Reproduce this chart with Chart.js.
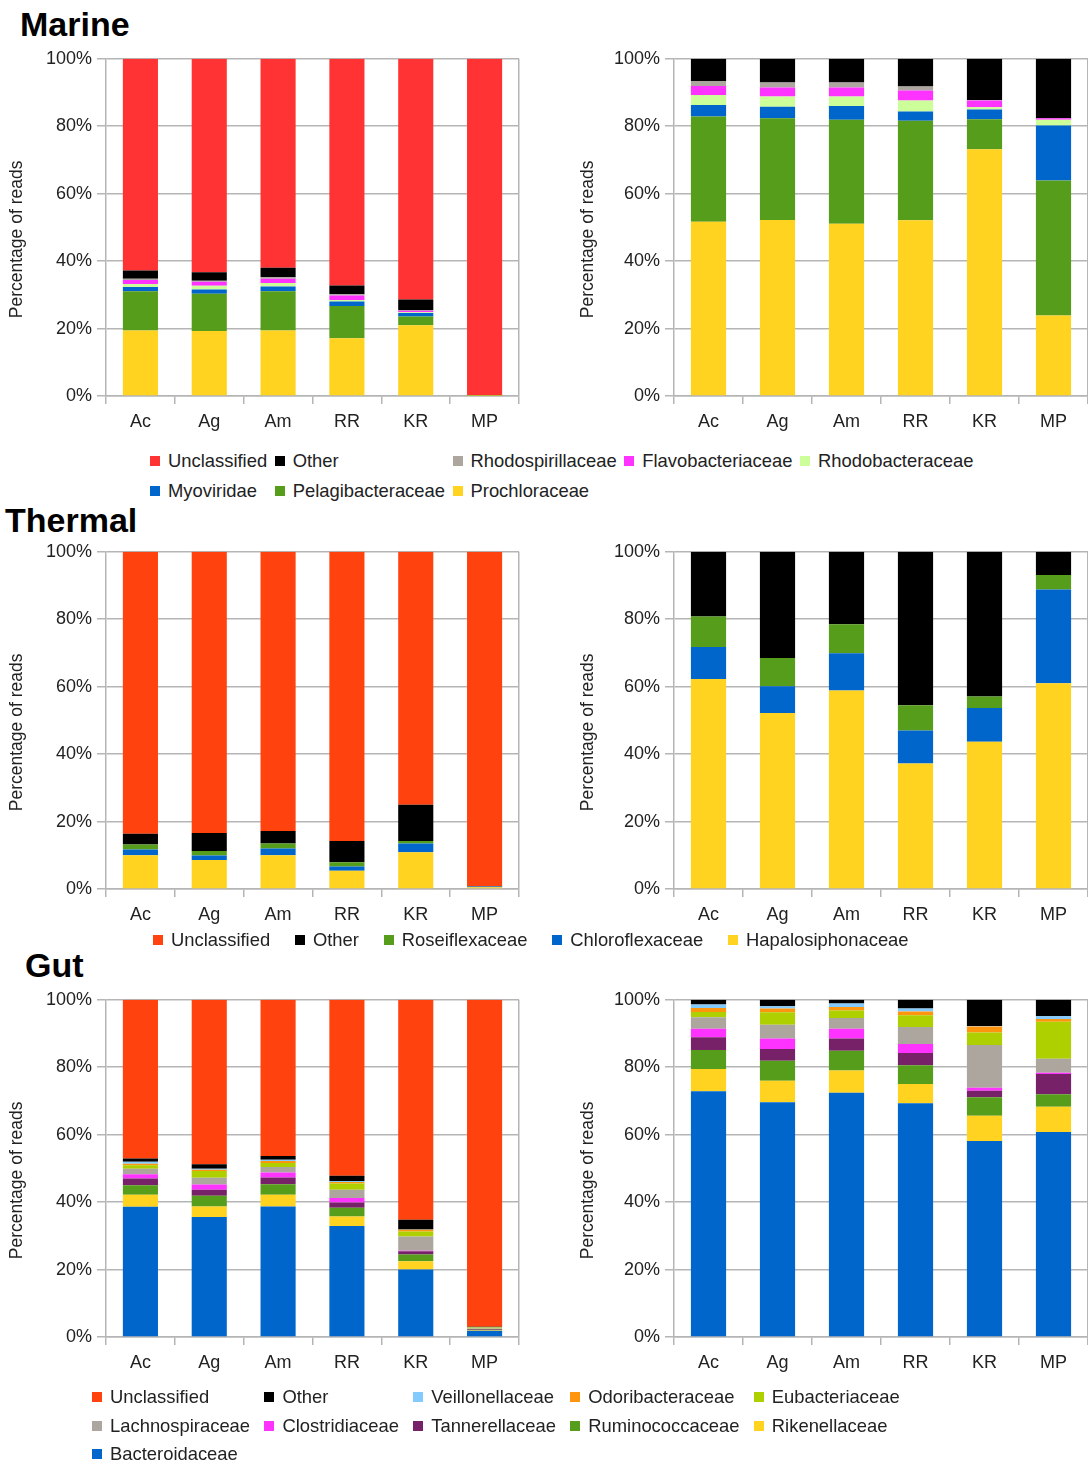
<!DOCTYPE html>
<html>
<head>
<meta charset="utf-8">
<script src="https://cdn.jsdelivr.net/npm/chart.js@4.4.1/dist/chart.umd.min.js"></script>
<style>
  html, body { margin: 0; padding: 0; background: #fff; }
  body { width: 1088px; height: 1465px; position: relative; overflow: hidden;
         font-family: 'Liberation Sans', Arial, sans-serif; color: #222; }
  .title { position: absolute; font-weight: bold; font-size: 34px; line-height: 1; color: #000; }
  .panel { position: absolute; }
  .legend { position: absolute; font-size: 18.4px; }
  .legend.grid { display: grid; grid-template-columns: repeat(5, max-content); }
  .legend.row { display: flex; align-items: center; }
  .item { display: flex; align-items: center; white-space: nowrap; }
  .sw { width: 10px; height: 10px; margin-right: 8px; flex: none; }
</style>
</head>
<body>
<div class="title" style="left:20px; top:7px;">Marine</div>
<div class="title" style="left:5px; top:503px;">Thermal</div>
<div class="title" style="left:25px; top:948px;">Gut</div>

<div class="panel" style="left:0; top:43px; width:530px; height:402px;"><canvas id="marineAll"></canvas></div>
<div class="panel" style="left:568px; top:43px; width:520px; height:402px;"><canvas id="marineCls"></canvas></div>
<div class="panel" style="left:0; top:536px; width:530px; height:402px;"><canvas id="thermalAll"></canvas></div>
<div class="panel" style="left:568px; top:536px; width:520px; height:402px;"><canvas id="thermalCls"></canvas></div>
<div class="panel" style="left:0; top:984px; width:530px; height:402px;"><canvas id="gutAll"></canvas></div>
<div class="panel" style="left:568px; top:984px; width:520px; height:402px;"><canvas id="gutCls"></canvas></div>

<div id="marineLegend" class="legend grid" style="left:150px; top:446px; column-gap:7.5px; grid-auto-rows:30px;"></div>
<div id="thermalLegend" class="legend row" style="left:153px; top:925px; column-gap:24.8px; height:30px;"></div>
<div id="gutLegend" class="legend grid" style="left:92px; top:1383px; column-gap:14.3px; grid-auto-rows:28.5px;"></div>

<script>
// Sample sites
const categories = ['Ac', 'Ag', 'Am', 'RR', 'KR', 'MP'];

// ---- Marine: share of all reads (%) ----
const marineProchloraceae     = [19.4, 19.3, 19.4, 17.1, 21.0, 0.07];
const marinePelagibacteraceae = [11.7, 11.0, 11.7,  9.6,  2.6, 0.12];
const marineMyoviridae        = [ 1.2,  1.3,  1.4,  1.3,  1.0, 0.05];
const marineRhodobacteraceae  = [ 0.9,  1.1,  1.0,  0.5,  0.2, 0.01];
const marineFlavobacteriaceae = [ 1.2,  1.2,  1.3,  1.3,  0.5, 0.0];
const marineRhodospirillaceae = [ 0.4,  0.3,  0.4,  0.4,  0.1, 0.0];
const marineOther             = [ 2.4,  2.5,  2.8,  2.6,  3.2, 0.05];
const marineUnclassified      = [62.8, 63.3, 62.0, 67.2, 71.4, 99.7];

// ---- Marine: share of classified reads (%) ----
const marineClsProchloraceae     = [51.7, 52.2, 51.1, 52.1, 73.2, 23.9];
const marineClsPelagibacteraceae = [31.2, 30.2, 30.8, 29.5,  8.9, 40.0];
const marineClsMyoviridae        = [ 3.4,  3.4,  4.1,  2.8,  2.9, 16.3];
const marineClsRhodobacteraceae  = [ 3.0,  3.0,  2.8,  3.2,  0.6,  1.7];
const marineClsFlavobacteriaceae = [ 2.6,  2.7,  2.7,  3.0,  2.0,  0.5];
const marineClsRhodospirillaceae = [ 1.5,  1.5,  1.5,  1.2,  0.2,  0.0];
const marineClsOther             = [ 6.6,  7.0,  7.0,  8.2, 12.2, 17.6];

// ---- Thermal: share of all reads (%) ----
const thermalHapalosiphonaceae = [10.0,  8.6, 10.0,  5.4, 10.9, 0.5];
const thermalChloroflexaceae   = [ 1.7,  1.3,  2.0,  1.3,  2.6, 0.22];
const thermalRoseiflexaceae    = [ 1.5,  1.4,  1.5,  1.2,  0.7, 0.03];
const thermalOther             = [ 3.2,  5.3,  3.7,  6.3, 10.8, 0.05];
const thermalUnclassified      = [83.6, 83.4, 82.8, 85.8, 75.0, 99.2];

// ---- Thermal: share of classified reads (%) ----
const thermalClsHapalosiphonaceae = [62.3, 52.2, 58.9, 37.2, 43.7, 61.0];
const thermalClsChloroflexaceae   = [ 9.5,  7.9, 11.0,  9.8, 10.0, 27.8];
const thermalClsRoseiflexaceae    = [ 9.0,  8.4,  8.6,  7.5,  3.4,  4.3];
const thermalClsOther             = [19.2, 31.5, 21.5, 45.5, 42.9,  6.9];

// ---- Gut: share of all reads (%) ----
const gutBacteroidaceae   = [38.6, 35.6, 38.7, 32.9, 20.0, 1.85];
const gutRikenellaceae    = [ 3.6,  3.1,  3.5,  2.8,  2.5, 0.2];
const gutRuminococcaceae  = [ 2.8,  3.2,  3.1,  2.6,  2.0, 0.12];
const gutTannerellaceae   = [ 2.0,  1.8,  2.0,  1.6,  0.9, 0.18];
const gutClostridiaceae   = [ 1.3,  1.5,  1.5,  1.3,  0.2, 0.01];
const gutLachnospiraceae  = [ 1.6,  2.0,  1.6,  2.5,  4.2, 0.13];
const gutEubacteriaceae   = [ 1.0,  2.0,  1.2,  1.8,  1.5, 0.33];
const gutOdoribacteraceae = [ 0.5,  0.4,  0.6,  0.5,  0.5, 0.03];
const gutVeillonellaceae  = [ 0.6,  0.3,  0.4,  0.3,  0.1, 0.03];
const gutOther            = [ 0.9,  1.3,  1.1,  1.5,  2.9, 0.15];
const gutUnclassified     = [47.1, 48.8, 46.3, 52.2, 65.2, 96.97];

// ---- Gut: share of classified reads (%) ----
const gutClsBacteroidaceae   = [72.9, 69.6, 72.4, 69.3, 58.1, 60.8];
const gutClsRikenellaceae    = [ 6.6,  6.4,  6.6,  5.7,  7.5,  7.5];
const gutClsRuminococcaceae  = [ 5.6,  5.9,  5.9,  5.6,  5.5,  3.7];
const gutClsTannerellaceae   = [ 3.8,  3.5,  3.6,  3.6,  1.9,  6.0];
const gutClsClostridiaceae   = [ 2.5,  3.1,  2.9,  2.7,  0.9,  0.4];
const gutClsLachnospiraceae  = [ 3.4,  4.1,  3.2,  5.0, 12.7,  4.1];
const gutClsEubacteriaceae   = [ 1.6,  3.7,  2.2,  3.5,  3.7, 11.0];
const gutClsOdoribacteraceae = [ 1.2,  1.1,  1.1,  1.1,  1.8,  0.8];
const gutClsVeillonellaceae  = [ 1.0,  0.7,  1.0,  0.9,  0.1,  0.8];
const gutClsOther            = [ 1.4,  1.9,  1.1,  2.6,  7.8,  4.9];

// Y-axis ticks
const yTicks = [0, 20, 40, 60, 80, 100];
const yAxisTitle = 'Percentage of reads';

// Series colours
const C = {
  unclassifiedRed: '#FF3333',
  unclassifiedOrange: '#FF420E',
  other: '#000000',
  grey: '#ADA69F',
  magenta: '#FF33FF',
  paleGreen: '#CCFF99',
  blue: '#0066CC',
  green: '#579D1C',
  yellow: '#FFD320',
  lightBlue: '#83CAFF',
  orange: '#FF950E',
  lime: '#AECF00',
  purple: '#772268'
};

const FONT = "'Liberation Sans', Arial, sans-serif";
const GRID = '#b5b5b5';
Chart.defaults.font.family = FONT;
Chart.defaults.font.size = 18;
Chart.defaults.color = '#222';

// Rotated y-axis caption, centred a little below the middle of the plot
const yCaption = {
  id: 'yCaption',
  afterDraw(chart, args, opts) {
    const { ctx, chartArea } = chart;
    ctx.save();
    ctx.font = '17.5px ' + FONT;
    ctx.fillStyle = '#222';
    ctx.textAlign = 'center';
    ctx.textBaseline = 'middle';
    ctx.translate(opts.x, (chartArea.top + chartArea.bottom) / 2 + opts.shift);
    ctx.rotate(-Math.PI / 2);
    ctx.fillText(opts.text, 0, 0);
    ctx.restore();
  }
};

// Series are listed bottom of stack first
function series(list) {
  return list.map(([label, data, color]) => ({
    label, data, backgroundColor: color, borderWidth: 0,
    barPercentage: 0.51, categoryPercentage: 1.0
  }));
}

function makeChart(id, datasets, captionX, rightPad) {
  return new Chart(document.getElementById(id), {
    type: 'bar',
    data: { labels: categories, datasets },
    plugins: [yCaption],
    options: {
      responsive: true,
      maintainAspectRatio: false,
      animation: false,
      events: [],
      layout: { padding: { top: 12, right: rightPad, left: 0, bottom: 0 } },
      plugins: {
        legend: { display: false },
        tooltip: { enabled: false },
        yCaption: { text: yAxisTitle, x: captionX, shift: 12 }
      },
      scales: {
        x: {
          stacked: true,
          grid: {
            offset: true,
            drawOnChartArea: true,
            color: (c) => (c.type === 'tick' ? 'rgba(0,0,0,0)' : GRID),
            tickColor: GRID,
            tickLength: 8,
            lineWidth: 1.5
          },
          border: { display: true, color: GRID, width: 1.5 },
          ticks: { padding: 7, color: '#222' },
          afterFit: (s) => { s.height = 49; }
        },
        y: {
          stacked: true,
          min: yTicks[0],
          max: yTicks[yTicks.length - 1],
          afterBuildTicks: (s) => { s.ticks = yTicks.map((v) => ({ value: v })); },
          ticks: { padding: 5, color: '#222', callback: (v) => v + '%' },
          grid: { color: GRID, tickColor: GRID, tickLength: 9, lineWidth: 1.5 },
          border: { display: true, color: GRID, width: 1.5 },
          afterFit: (s) => { s.width = 106; }
        }
      }
    }
  });
}

function buildLegend(chart, elId) {
  const el = document.getElementById(elId);
  const items = Chart.defaults.plugins.legend.labels.generateLabels(chart).reverse();
  items.forEach((it) => {
    const d = document.createElement('div');
    d.className = 'item';
    const sw = document.createElement('span');
    sw.className = 'sw';
    sw.style.background = it.fillStyle;
    const t = document.createElement('span');
    t.textContent = it.text;
    d.appendChild(sw);
    d.appendChild(t);
    el.appendChild(d);
  });
}

// Marine
const marineAll = makeChart('marineAll', series([
  ['Prochloraceae', marineProchloraceae, C.yellow],
  ['Pelagibacteraceae', marinePelagibacteraceae, C.green],
  ['Myoviridae', marineMyoviridae, C.blue],
  ['Rhodobacteraceae', marineRhodobacteraceae, C.paleGreen],
  ['Flavobacteriaceae', marineFlavobacteriaceae, C.magenta],
  ['Rhodospirillaceae', marineRhodospirillaceae, C.grey],
  ['Other', marineOther, C.other],
  ['Unclassified', marineUnclassified, C.unclassifiedRed]
]), 17, 11);
makeChart('marineCls', series([
  ['Prochloraceae', marineClsProchloraceae, C.yellow],
  ['Pelagibacteraceae', marineClsPelagibacteraceae, C.green],
  ['Myoviridae', marineClsMyoviridae, C.blue],
  ['Rhodobacteraceae', marineClsRhodobacteraceae, C.paleGreen],
  ['Flavobacteriaceae', marineClsFlavobacteriaceae, C.magenta],
  ['Rhodospirillaceae', marineClsRhodospirillaceae, C.grey],
  ['Other', marineClsOther, C.other]
]), 20, 0);
buildLegend(marineAll, 'marineLegend');

// Thermal
const thermalAll = makeChart('thermalAll', series([
  ['Hapalosiphonaceae', thermalHapalosiphonaceae, C.yellow],
  ['Chloroflexaceae', thermalChloroflexaceae, C.blue],
  ['Roseiflexaceae', thermalRoseiflexaceae, C.green],
  ['Other', thermalOther, C.other],
  ['Unclassified', thermalUnclassified, C.unclassifiedOrange]
]), 17, 11);
makeChart('thermalCls', series([
  ['Hapalosiphonaceae', thermalClsHapalosiphonaceae, C.yellow],
  ['Chloroflexaceae', thermalClsChloroflexaceae, C.blue],
  ['Roseiflexaceae', thermalClsRoseiflexaceae, C.green],
  ['Other', thermalClsOther, C.other]
]), 20, 0);
buildLegend(thermalAll, 'thermalLegend');

// Gut
const gutAll = makeChart('gutAll', series([
  ['Bacteroidaceae', gutBacteroidaceae, C.blue],
  ['Rikenellaceae', gutRikenellaceae, C.yellow],
  ['Ruminococcaceae', gutRuminococcaceae, C.green],
  ['Tannerellaceae', gutTannerellaceae, C.purple],
  ['Clostridiaceae', gutClostridiaceae, C.magenta],
  ['Lachnospiraceae', gutLachnospiraceae, C.grey],
  ['Eubacteriaceae', gutEubacteriaceae, C.lime],
  ['Odoribacteraceae', gutOdoribacteraceae, C.orange],
  ['Veillonellaceae', gutVeillonellaceae, C.lightBlue],
  ['Other', gutOther, C.other],
  ['Unclassified', gutUnclassified, C.unclassifiedOrange]
]), 17, 11);
makeChart('gutCls', series([
  ['Bacteroidaceae', gutClsBacteroidaceae, C.blue],
  ['Rikenellaceae', gutClsRikenellaceae, C.yellow],
  ['Ruminococcaceae', gutClsRuminococcaceae, C.green],
  ['Tannerellaceae', gutClsTannerellaceae, C.purple],
  ['Clostridiaceae', gutClsClostridiaceae, C.magenta],
  ['Lachnospiraceae', gutClsLachnospiraceae, C.grey],
  ['Eubacteriaceae', gutClsEubacteriaceae, C.lime],
  ['Odoribacteraceae', gutClsOdoribacteraceae, C.orange],
  ['Veillonellaceae', gutClsVeillonellaceae, C.lightBlue],
  ['Other', gutClsOther, C.other]
]), 20, 0);
buildLegend(gutAll, 'gutLegend');
</script>
</body>
</html>
